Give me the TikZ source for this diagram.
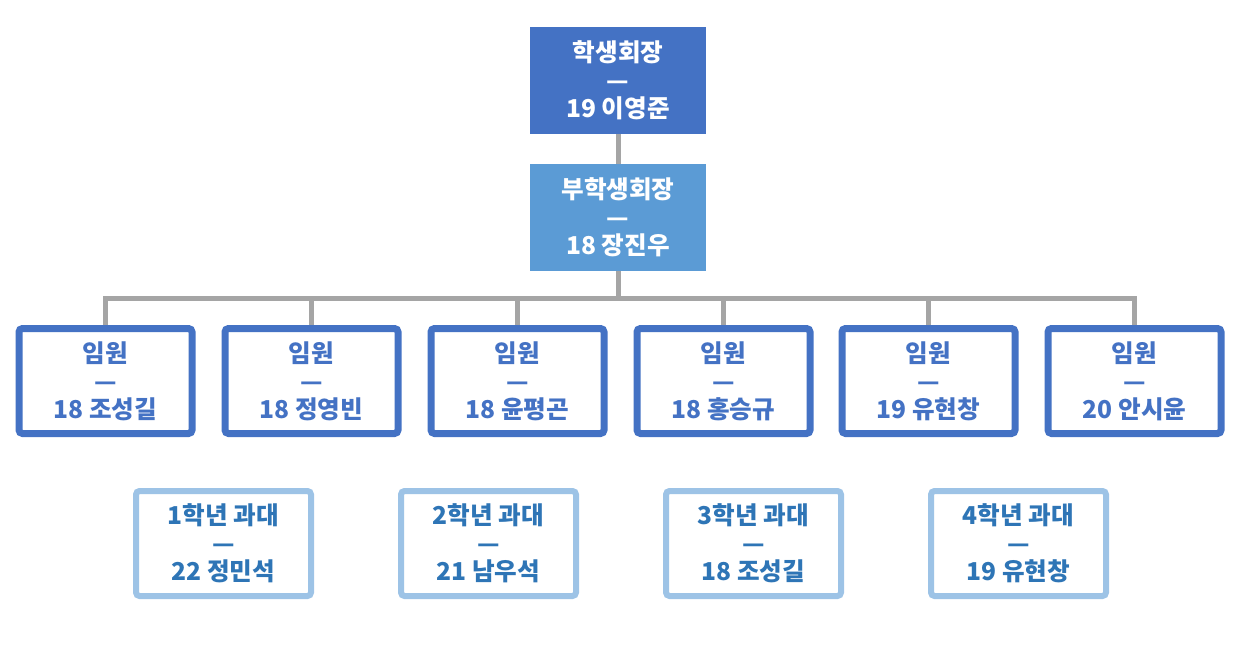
\documentclass[tikz,border=0pt]{standalone}
\usepackage{fontspec}
\usepackage{xcolor}
\usetikzlibrary{positioning}
\newfontfamily\kr{Noto Sans CJK KR}
\definecolor{chairblue}{HTML}{4472C4}
\definecolor{vpblue}{HTML}{5B9BD5}
\definecolor{repblue}{HTML}{9DC3E6}
\definecolor{reptext}{HTML}{2E75B6}
\definecolor{linkgray}{HTML}{A5A5A5}

\tikzset{
  box/.style={align=center,inner sep=0pt,
    font=\kr\bfseries\fontsize{14}{16}\selectfont},
  headbox/.style={box,fill=chairblue,text=white,minimum width=3.52cm,minimum height=2.14cm},
  vicebox/.style={box,fill=vpblue,text=white,minimum width=3.52cm,minimum height=2.14cm},
  memberbox/.style={box,draw=chairblue,line width=0.14cm,rounded corners=2pt,
    text=chairblue,fill=white,minimum width=3.46cm,minimum height=2.1cm},
  repbox/.style={box,draw=repblue,line width=0.12cm,rounded corners=2pt,
    text=reptext,fill=white,minimum width=3.5cm,minimum height=2.1cm},
  link/.style={draw=linkgray,line width=0.1cm}
}

\begin{document}
\begin{tikzpicture}
  \useasboundingbox (0,0) rectangle (24.92,-12.94);
  % top of the chart
  \node[headbox] (pres) at (12.36,-1.61) {학생회장\\—\\19 이영준};
  \node[vicebox] (vp) at (12.36,-4.35) {부학생회장\\—\\18 장진우};
  % members
  \node[memberbox] (m1) at (2.11,-7.62) {임원\\—\\18 조성길};
  \node[memberbox] (m2) at (6.23,-7.62) {임원\\—\\18 정영빈};
  \node[memberbox] (m3) at (10.35,-7.62) {임원\\—\\18 윤평곤};
  \node[memberbox] (m4) at (14.47,-7.62) {임원\\—\\18 홍승규};
  \node[memberbox] (m5) at (18.57,-7.62) {임원\\—\\19 유현창};
  \node[memberbox] (m6) at (22.69,-7.62) {임원\\—\\20 안시윤};
  % class reps
  \node[repbox] (r1) at (4.47,-10.87) {1학년 과대\\—\\22 정민석};
  \node[repbox] (r2) at (9.77,-10.87) {2학년 과대\\—\\21 남우석};
  \node[repbox] (r3) at (15.07,-10.87) {3학년 과대\\—\\18 조성길};
  \node[repbox] (r4) at (20.37,-10.87) {4학년 과대\\—\\19 유현창};
  % connectors
  \path[link] (pres.south) -- (vp.north);
  \path[link] (vp.south) -- ++(0,-0.54) coordinate (bus);
  \path[link] (bus) -| (m1.north);
  \path[link] (bus) -| (m2.north);
  \path[link] (bus) -| (m3.north);
  \path[link] (bus) -| (m4.north);
  \path[link] (bus) -| (m5.north);
  \path[link] (bus) -| (m6.north);
\end{tikzpicture}
\end{document}
